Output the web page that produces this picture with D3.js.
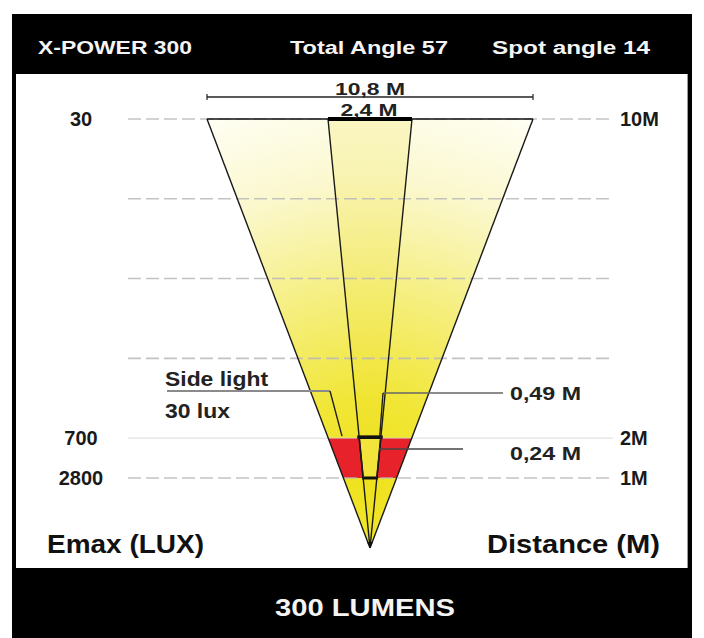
<!DOCTYPE html>
<html>
<head>
<meta charset="utf-8">
<script src="https://cdn.jsdelivr.net/npm/d3@7"></script>
<style>
  html, body { margin: 0; padding: 0; background: #fff; }
  svg { display: block; }
  text { font-family: "Liberation Sans", Arial, sans-serif; }
</style>
</head>
<body>
<svg id="chart" width="704" height="638"></svg>
<script>
// ---------- data ----------
const headerTexts = ["X-POWER 300", "Total Angle 57", "Spot angle 14"];
const footerText = "300 LUMENS";
const gridDistances = [10, 8, 6, 4, 2, 1];          // metres
const luxDistances = [10, 2, 1];
const luxLabels = ["30", "700", "2800"];            // Emax (lux)
const distanceLabels = ["10M", "2M", "1M"];
const beamNames = ["total", "spot"];
const beamAngles = [57, 14];                          // degrees
const beamWidthsAt10 = [10.8, 2.4];                   // metres, at 10 M
const beamWidthLabels = ["10,8 M", "2,4 M"];
const spotDistances = [2, 1];
const spotWidths = [0.49, 0.24];                      // metres
const spotWidthLabels = ["0,49 M", "0,24 M"];
const sideLightLabels = ["Side light", "30 lux"];
const axisTitles = ["Emax (LUX)", "Distance (M)"];
const maxDistance = 10;

// ---------- scales (schematic, piecewise) ----------
const y = d3.scaleLinear().domain([0, 1, maxDistance]).range([548, 478, 119]);
const half = [beamWidthsAt10[0] / 2, beamWidthsAt10[1] / 2];
const x = d3.scaleLinear()
  .domain([-half[0], -half[1], 0, half[1], half[0]])
  .range([207, 328, 370, 412, 533]);

// point on a beam edge at distance d, for a beam half-width (at 10 M) w
function edge(d, w) {
  const t = (y(0) - y(d)) / (y(0) - y(maxDistance));
  return [x(0) + t * (x(w) - x(0)), y(d)];
}

const svg = d3.select("#chart");
const defs = svg.append("defs");

// frame
svg.append("rect").attr("x", 12).attr("y", 14).attr("width", 680).attr("height", 624).attr("fill", "#000");
svg.append("rect").attr("x", 16).attr("y", 74).attr("width", 671).attr("height", 494).attr("fill", "#fff");
svg.append("line").attr("x1", 687.5).attr("x2", 687.5).attr("y1", 74).attr("y2", 568)
  .attr("stroke", "#9a9a9a").attr("stroke-width", 1);

// header
const headerX = [38, 290, 492], headerW = [154, 158, 158];
svg.selectAll("text.header").data(headerTexts).join("text")
  .attr("class", "header")
  .attr("x", (d, i) => headerX[i]).attr("y", 54)
  .attr("fill", "#f4f4f4").attr("font-size", 18).attr("font-weight", "bold")
  .attr("textLength", (d, i) => headerW[i]).attr("lengthAdjust", "spacingAndGlyphs")
  .text(d => d);

// footer
svg.append("text").attr("x", 365).attr("y", 616).attr("text-anchor", "middle")
  .attr("fill", "#f4f4f4").attr("font-size", 23).attr("font-weight", "bold")
  .attr("textLength", 180).attr("lengthAdjust", "spacingAndGlyphs")
  .text(footerText);

// gradients
const rg = defs.append("radialGradient").attr("id", "beamGrad")
  .attr("gradientUnits", "userSpaceOnUse")
  .attr("cx", 370).attr("cy", 480).attr("r", 400);
[[0, "#efe21c"], [0.2, "#f1e635"], [0.45, "#f5ee7a"], [0.75, "#fbf8cf"], [1, "#fffff6"]]
  .forEach(s => rg.append("stop").attr("offset", s[0]).attr("stop-color", s[1]));

// outer beam
const outerTop = [edge(maxDistance, -half[0]), edge(maxDistance, half[0])];
const apex = [x(0), y(0)];
svg.append("path")
  .attr("d", d3.line()([apex, outerTop[0], outerTop[1]]) + "Z")
  .attr("fill", "url(#beamGrad)");
// spot beam tint
svg.append("path")
  .attr("d", d3.line()([apex, edge(maxDistance, -half[1]), edge(maxDistance, half[1])]) + "Z")
  .attr("fill", "#efe020").attr("fill-opacity", 0.18);

// red band between 2 M and 1 M
svg.append("path")
  .attr("d", d3.line()([edge(2, -half[0]), edge(2, half[0]), edge(1, half[0]), edge(1, -half[0])]) + "Z")
  .attr("fill", "#e8222b");

// grid lines
const gridLeft = 128, gridRight = 613;
svg.selectAll("line.grid").data(gridDistances).join("line")
  .attr("class", "grid")
  .attr("x1", gridLeft).attr("x2", gridRight)
  .attr("y1", d => y(d)).attr("y2", d => y(d))
  .attr("stroke", d => d === 2 ? "#d4d4d4" : "#b8b8b8")
  .attr("stroke-width", d => d === 2 ? 1 : 1.6)
  .attr("stroke-dasharray", d => d === 2 ? null : "13,5")
  .attr("stroke-opacity", 0.85);

// spot trapezoid inside red band
const spotBox = [edge(2, -half[1]), edge(2, half[1]), edge(1, half[1]), edge(1, -half[1])];
svg.append("path").attr("d", d3.line()(spotBox) + "Z")
  .attr("fill", "#f2e43a").attr("stroke", "#111").attr("stroke-width", 1.6);
svg.append("line").attr("x1", spotBox[0][0] - 2).attr("x2", spotBox[1][0] + 2)
  .attr("y1", spotBox[0][1] - 1).attr("y2", spotBox[0][1] - 1)
  .attr("stroke", "#111").attr("stroke-width", 3.5);
svg.append("line").attr("x1", spotBox[3][0] - 1).attr("x2", spotBox[2][0] + 1)
  .attr("y1", spotBox[3][1]).attr("y2", spotBox[3][1])
  .attr("stroke", "#111").attr("stroke-width", 3);

// beam edges
beamNames.forEach((name, i) => {
  [-half[i], half[i]].forEach(w => {
    const p = edge(maxDistance, w);
    svg.append("line").attr("x1", apex[0]).attr("y1", apex[1]).attr("x2", p[0]).attr("y2", p[1])
      .attr("stroke", "#1a1a1a").attr("stroke-width", 1.4);
  });
});
// top edge and spot bar
svg.append("line").attr("x1", outerTop[0][0]).attr("x2", outerTop[1][0])
  .attr("y1", outerTop[0][1]).attr("y2", outerTop[0][1]).attr("stroke", "#111").attr("stroke-width", 1.6);
svg.append("line").attr("x1", x(-half[1])).attr("x2", x(half[1]))
  .attr("y1", y(maxDistance)).attr("y2", y(maxDistance)).attr("stroke", "#000").attr("stroke-width", 4);
// apex mark
svg.append("path").attr("d", d3.line()([[apex[0] - 3, apex[1] - 6], [apex[0] + 3, apex[1] - 6], [apex[0], apex[1]]]) + "Z")
  .attr("fill", "#111");

// dimension line for total width
const dimY = 97;
svg.append("line").attr("x1", x(-half[0])).attr("x2", x(half[0])).attr("y1", dimY).attr("y2", dimY)
  .attr("stroke", "#222").attr("stroke-width", 1.4);
[-half[0], half[0]].forEach(w => svg.append("line").attr("x1", x(w)).attr("x2", x(w))
  .attr("y1", dimY - 3).attr("y2", dimY + 3).attr("stroke", "#222").attr("stroke-width", 1.2));
svg.append("text").attr("x", x(0)).attr("y", 95).attr("text-anchor", "middle")
  .attr("font-size", 17).attr("font-weight", "bold").attr("fill", "#222")
  .attr("textLength", 70).attr("lengthAdjust", "spacingAndGlyphs")
  .text(beamWidthLabels[0]);
svg.append("text").attr("x", x(0) - 1).attr("y", 116).attr("text-anchor", "middle")
  .attr("font-size", 17).attr("font-weight", "bold").attr("fill", "#222")
  .attr("textLength", 57).attr("lengthAdjust", "spacingAndGlyphs")
  .text(beamWidthLabels[1]);

// lux labels (left) and distance labels (right)
svg.selectAll("text.lux").data(luxLabels).join("text")
  .attr("class", "lux")
  .attr("x", 81).attr("y", (d, i) => y(luxDistances[i]) + 7)
  .attr("text-anchor", "middle").attr("font-size", 20).attr("font-weight", "bold").attr("fill", "#1a1a1a")
  .text(d => d);
svg.selectAll("text.dist").data(distanceLabels).join("text")
  .attr("class", "dist")
  .attr("x", 620).attr("y", (d, i) => y(luxDistances[i]) + 7)
  .attr("font-size", 20).attr("font-weight", "bold").attr("fill", "#1a1a1a")
  .text(d => d);

// side light callout
svg.append("polyline").attr("points", [[167, 391], [330, 391]].join(" "))
  .attr("fill", "none").attr("stroke", "#8a8a8a").attr("stroke-width", 2);
svg.append("line").attr("x1", 330).attr("y1", 391).attr("x2", 342).attr("y2", y(2) - 2)
  .attr("stroke", "#222").attr("stroke-width", 1.4);
const sideW = [103, 65];
svg.selectAll("text.side").data(sideLightLabels).join("text")
  .attr("class", "side")
  .attr("x", 165).attr("y", (d, i) => 386 + i * 32)
  .attr("font-size", 20).attr("font-weight", "bold").attr("fill", "#222")
  .attr("textLength", (d, i) => sideW[i]).attr("lengthAdjust", "spacingAndGlyphs")
  .text(d => d);

// spot width callouts
const spotP2 = edge(2, half[1]);
svg.append("line").attr("x1", 383).attr("y1", 393).attr("x2", 503).attr("y2", 393)
  .attr("stroke", "#666").attr("stroke-width", 1.6);
svg.append("line").attr("x1", 383).attr("y1", 393).attr("x2", spotP2[0] - 1).attr("y2", spotP2[1] - 2)
  .attr("stroke", "#222").attr("stroke-width", 1.4);
svg.append("line").attr("x1", (edge(1.5, half[1])[0])).attr("y1", 449).attr("x2", 463).attr("y2", 449)
  .attr("stroke", "#444").attr("stroke-width", 1.6);
svg.selectAll("text.spotw").data(spotWidthLabels).join("text")
  .attr("class", "spotw")
  .attr("x", 510).attr("y", (d, i) => [400, 460][i])
  .attr("font-size", 19).attr("font-weight", "bold").attr("fill", "#222")
  .attr("textLength", 71).attr("lengthAdjust", "spacingAndGlyphs")
  .text(d => d);

// axis titles
svg.append("text").attr("x", 47).attr("y", 553).attr("font-size", 25).attr("font-weight", "bold")
  .attr("fill", "#111").attr("textLength", 157).attr("lengthAdjust", "spacingAndGlyphs").text(axisTitles[0]);
svg.append("text").attr("x", 487).attr("y", 553).attr("font-size", 25).attr("font-weight", "bold")
  .attr("fill", "#111").attr("textLength", 173).attr("lengthAdjust", "spacingAndGlyphs").text(axisTitles[1]);
</script>
</body>
</html>
